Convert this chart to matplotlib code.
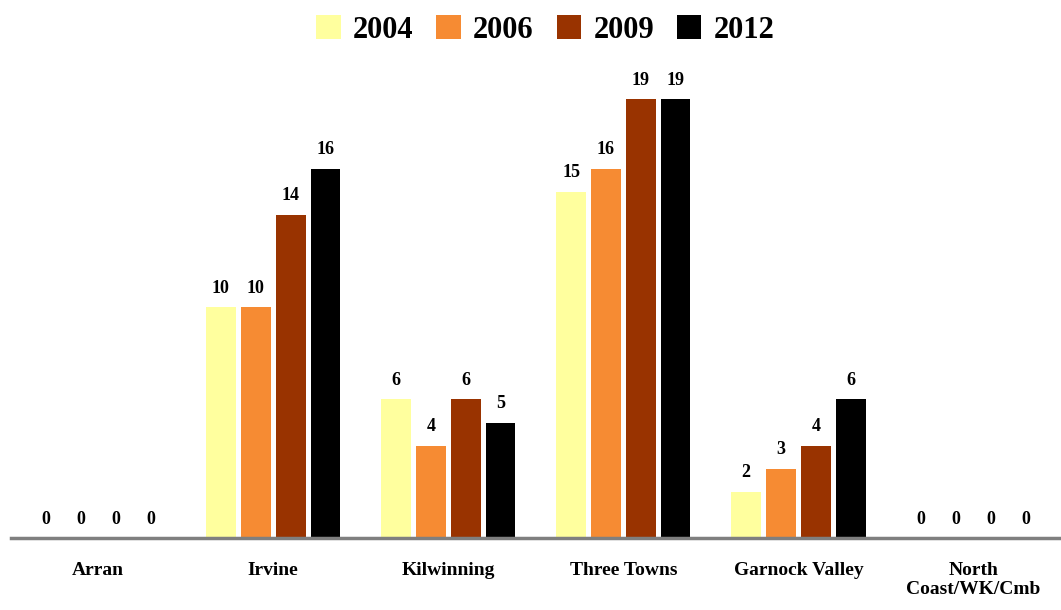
import matplotlib
matplotlib.use("Agg")
import matplotlib.pyplot as plt
import numpy as np

categories = ["Arran", "Irvine", "Kilwinning", "Three Towns", "Garnock Valley", "North\nCoast/WK/Cmb"]
years = ["2004", "2006", "2009", "2012"]
values_2004 = [0, 10, 6, 15, 2, 0]
values_2006 = [0, 10, 4, 16, 3, 0]
values_2009 = [0, 14, 6, 19, 4, 0]
values_2012 = [0, 16, 5, 19, 6, 0]
series = [values_2004, values_2006, values_2009, values_2012]
colors = ["#FFFF9E", "#F68B33", "#993300", "#000000"]

plt.rcParams["font.family"] = ["Liberation Serif", "DejaVu Serif"]
plt.rcParams["font.weight"] = "bold"

fig = plt.figure(figsize=(10.61, 6.10), dpi=100)
fig.patch.set_facecolor("white")
ax = fig.add_axes([0.010, 0.118, 0.990, 0.795])

x = np.arange(len(categories))
step = 0.199
width = 0.17
handles = []
for i, (vals, col, yr) in enumerate(zip(series, colors, years)):
    pos = x + (i - 1.5) * step
    bars = ax.bar(pos, vals, width=width, color=col, label=yr, zorder=2)
    handles.append(bars)
    for p, v in zip(pos, vals):
        ax.text(p, v + 0.45, str(v), ha="center", va="bottom",
                fontsize=13, fontweight="bold", color="black")

ax.set_xlim(-0.5, 5.5)
ax.set_ylim(0, 21)
ax.set_yticks([])
ax.set_xticks(x)
ax.set_xticklabels(categories, fontsize=14, fontweight="bold", va="top")
ax.tick_params(axis="x", length=0, pad=17)
for side in ["top", "right", "left"]:
    ax.spines[side].set_visible(False)
ax.spines["bottom"].set_color("#7f7f7f")
ax.spines["bottom"].set_linewidth(2.5)

fig.legend(handles=handles, labels=years, loc="upper center", ncol=4,
           bbox_to_anchor=(0.514, 1.02), frameon=False, fontsize=22,
           handlelength=0.8, handleheight=0.8, handletextpad=0.4, columnspacing=0.75)

fig.savefig("out.png", dpi=100, facecolor="white")
